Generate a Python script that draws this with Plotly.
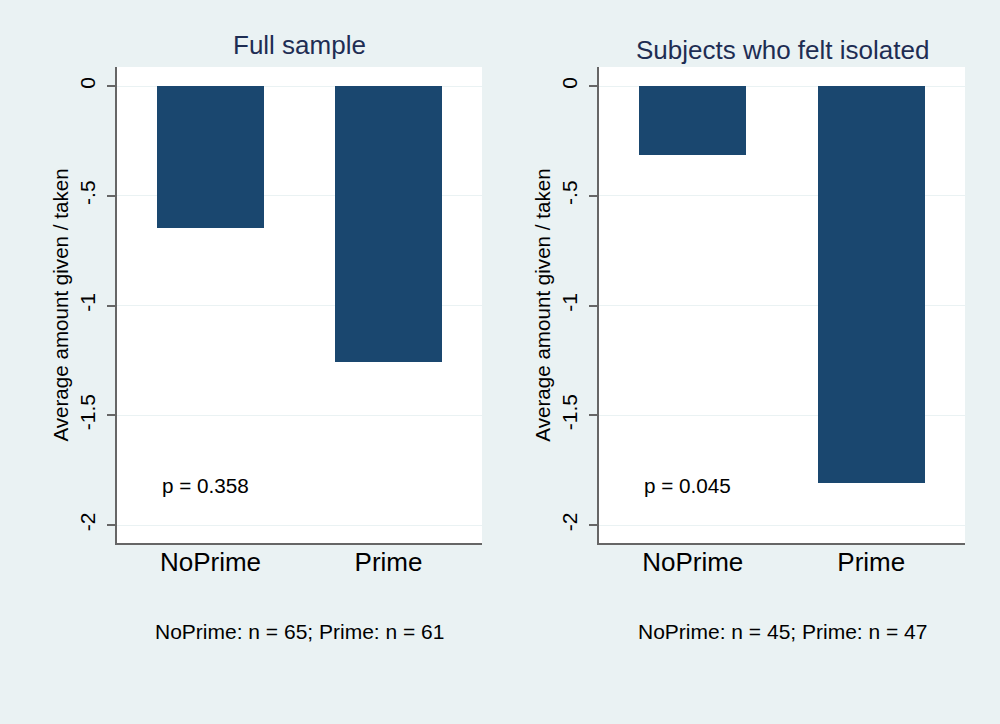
import plotly.graph_objects as go

categories = ["NoPrime", "Prime"]
full_values = [-0.647, -1.257]
isolated_values = [-0.314, -1.807]
panel_titles = ["Full sample", "Subjects who felt isolated"]
p_labels = ["p = 0.358", "p = 0.045"]
notes = ["NoPrime: n = 65; Prime: n = 61", "NoPrime: n = 45; Prime: n = 47"]
y_tickvals = [0, -0.5, -1, -1.5, -2]
y_ticktext = ["0", "-.5", "-1", "-1.5", "-2"]
y_title = "Average amount given / taken"

BG = "#EAF2F3"
BAR = "#1A476F"
FONT = "Arial, Liberation Sans, sans-serif"
AX = "#666666"

fig = go.Figure()
fig.add_trace(go.Bar(x=[0, 1], y=full_values, width=0.6, marker=dict(color=BAR, line=dict(width=0)),
                     xaxis="x", yaxis="y", showlegend=False))
fig.add_trace(go.Bar(x=[0, 1], y=isolated_values, width=0.6, marker=dict(color=BAR, line=dict(width=0)),
                     xaxis="x2", yaxis="y2", showlegend=False))

xdoms = [[0.117, 0.482], [0.599, 0.965]]
ydom = [1 - 543 / 724, 1 - 67 / 724]

common_y = dict(range=[-2.082, 0.0866], tickvals=y_tickvals, ticktext=y_ticktext, tickangle=-90,
                showgrid=True, gridcolor=BG, gridwidth=1.3, zeroline=False,
                showline=True, linecolor=AX, linewidth=1.7, ticks="outside", ticklen=8,
                tickcolor=AX, tickwidth=1.7, tickfont=dict(family=FONT, size=21, color="black"),
                ticklabelstandoff=4,
                title=dict(text=y_title, font=dict(family=FONT, size=20.6, color="black"), standoff=2),
                domain=ydom, fixedrange=True)
common_x = dict(range=[-0.525, 1.525], tickvals=[0, 1], ticktext=categories, showgrid=False,
                zeroline=False, showline=True, linecolor=AX, linewidth=1.7, ticks="",
                ticklabelstandoff=-5,
                tickfont=dict(family=FONT, size=26, color="black"), fixedrange=True)

fig.update_layout(
    width=1000, height=724,
    paper_bgcolor=BG, plot_bgcolor="white",
    margin=dict(l=0, r=0, t=0, b=0),
    bargap=0,
    xaxis=dict(domain=xdoms[0], anchor="y", **common_x),
    yaxis=dict(anchor="x", **common_y),
    xaxis2=dict(domain=xdoms[1], anchor="y2", **common_x),
    yaxis2=dict(anchor="x2", **common_y),
)

title_y = [45, 50]
note_y = 631
for i in range(2):
    cx = (xdoms[i][0] + xdoms[i][1]) / 2
    fig.add_annotation(x=cx, y=1 - title_y[i] / 724, xref="paper", yref="paper", text=panel_titles[i],
                       showarrow=False, xanchor="center", yanchor="middle",
                       font=dict(family=FONT, size=26, color="#1E2D53"))
    fig.add_annotation(x=cx, y=1 - note_y / 724, xref="paper", yref="paper", text=notes[i],
                       showarrow=False, xanchor="center", yanchor="middle",
                       font=dict(family=FONT, size=21, color="black"))
    xr = "x" if i == 0 else "x2"
    yr = "y" if i == 0 else "y2"
    fig.add_annotation(x=-0.284, y=-1.82, xref=xr, yref=yr, text=p_labels[i], showarrow=False,
                       xanchor="left", yanchor="middle", font=dict(family=FONT, size=20.7, color="black"))

fig.write_html("out.html", config={"displayModeBar": False},
               post_script="document.body.style.margin='0';document.body.style.background='%s';" % BG)
